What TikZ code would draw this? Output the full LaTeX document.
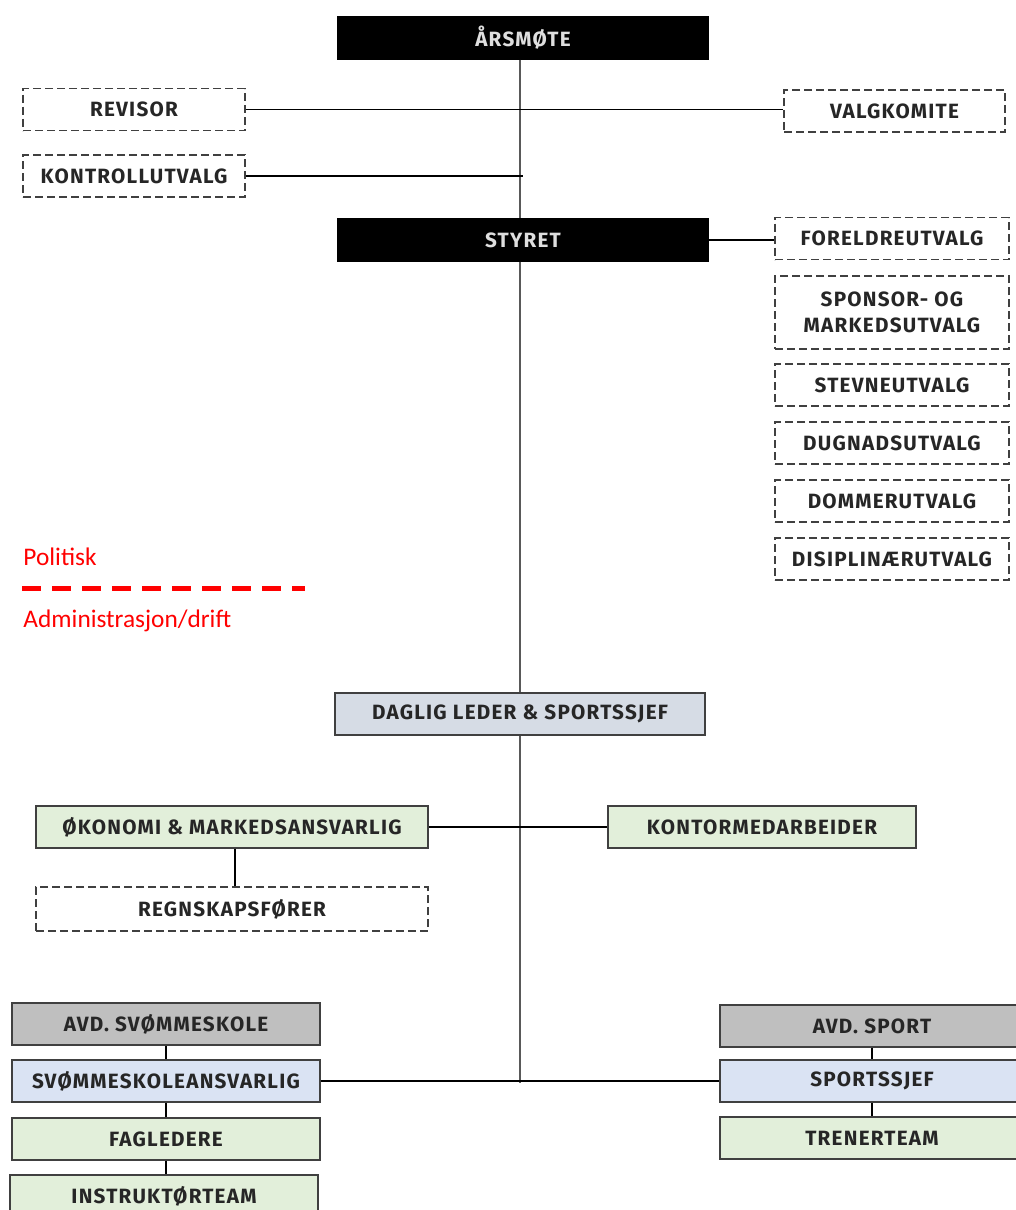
\documentclass[tikz,border=0pt]{standalone}
\usepackage{fontspec}
\setmainfont{Fira Sans}
\newfontfamily\orgfont{Fira Sans}[LetterSpace=6]
\newfontfamily\notefont{Carlito}
\usetikzlibrary{positioning}

\definecolor{boxline}{RGB}{64,64,64}
\definecolor{boxtext}{RGB}{38,38,38}
\definecolor{topbtext}{RGB}{222,222,222}
\definecolor{lederblue}{RGB}{214,220,229}
\definecolor{ansvblue}{RGB}{218,227,243}
\definecolor{drgreen}{RGB}{226,239,218}
\definecolor{avdgray}{RGB}{191,191,191}
\definecolor{spine}{RGB}{89,89,89}
\definecolor{skille}{RGB}{255,0,0}

\tikzset{every picture/.style={line width=0.75pt}}
\tikzset{
  org/.style={draw=boxline, line width=1pt, text=boxtext, align=center,
              inner sep=0.75pt, font=\orgfont\fontsize{15.5}{19.5}\selectfont\bfseries},
  wide/.style={minimum width=#1*0.75pt},
  tall/.style={minimum height=#1*0.75pt},
  topbox/.style={org, fill=black, draw=black, text=topbtext, wide=370, tall=42},
  utvalg/.style={org, dash pattern=on 6pt off 3pt, wide=222, tall=42},
  leder/.style={org, fill=lederblue, wide=370, tall=42},
  ansvar/.style={org, fill=ansvblue, wide=308, tall=42},
  drift/.style={org, fill=drgreen, wide=308, tall=42},
  avd/.style={org, fill=avdgray, wide=308, tall=42},
  link/.style={draw=black, line width=1.1pt},
  merknad/.style={anchor=west, inner sep=0pt, text=skille, font=\notefont\fontsize{19}{22}\selectfont},
}

\begin{document}
\begin{tikzpicture}[x=0.75pt, y=0.75pt, yscale=-1, xscale=1]

    \useasboundingbox (0,0) rectangle (1016,1210);

    % politisk nivaa
    \node [topbox] (aarsmote) at (523, 38) {ÅRSMØTE};
    \node [utvalg] (revisor) at (134, 109.5) {REVISOR};
    \node [utvalg, wide=221] (valgkomite) at (894.5, 111) {VALGKOMITE};
    \node [utvalg] (kontroll) at (134, 176) {KONTROLLUTVALG};
    \node [topbox] (styret) at (523, 240) {STYRET};

    \node [utvalg, wide=234] (foreldre) at (892, 238.5) {FORELDREUTVALG};
    \node [utvalg, wide=234, tall=73] (sponsor) at (892, 312.5) {SPONSOR- OG\\MARKEDSUTVALG};
    \node [utvalg, wide=234] (stevne) at (892, 385) {STEVNEUTVALG};
    \node [utvalg, wide=234] (dugnad) at (892, 443) {DUGNADSUTVALG};
    \node [utvalg, wide=234] (dommer) at (892, 501) {DOMMERUTVALG};
    \node [utvalg, wide=234] (disiplin) at (892, 559) {DISIPLINÆRUTVALG};

    % skillelinje
    \node [merknad] (politisk) at (23, 557) {Politisk};
    \node [merknad] (admin) at (23, 621) {Administrasjon/drift};
    \coordinate (skillea) at (22, 588);
    \coordinate (skilleb) at (305, 588);
    \draw [skille, line width=3.75pt, dash pattern=on 14.25pt off 8.25pt] (skillea) -- (skilleb);

    % administrasjon
    \node [leder] (daglig) at (520, 714) {DAGLIG LEDER \& SPORTSSJEF};
    \node [drift, wide=392] (okonomi) at (232, 827) {ØKONOMI \& MARKEDSANSVARLIG};
    \node [drift] (kontor) at (762, 827) {KONTORMEDARBEIDER};
    \node [utvalg, wide=392, tall=44] (regnskap) at (232, 909) {REGNSKAPSFØRER};

    \node [avd] (avdsvom) at (166, 1024) {AVD. SVØMMESKOLE};
    \node [ansvar] (svomansv) at (166, 1081) {SVØMMESKOLEANSVARLIG};
    \node [drift] (fagledere) at (166, 1139) {FAGLEDERE};
    \node [drift] (instruktor) at (164, 1196) {INSTRUKTØRTEAM};

    \node [avd, wide=304] (avdsport) at (872, 1026) {AVD. SPORT};
    \node [ansvar, wide=304] (sportssjef) at (872, 1081) {SPORTSSJEF};
    \node [drift, wide=304] (trenerteam) at (872, 1138) {TRENERTEAM};

    \coordinate (bunn) at (520, 1083);

    % linjer
    \draw [spine, line width=1.5pt] (bunn |- aarsmote.south) -- (bunn |- styret.north);
    \draw [spine, line width=1.5pt] (bunn |- styret.south) -- (bunn |- daglig.north);
    \draw [spine, line width=1.5pt] (bunn |- daglig.south) -- (bunn);

    \draw [link] (revisor.east) -- (revisor.east -| valgkomite.west);
    \draw [link] (kontroll.east) -- ([xshift=2.25pt]kontroll.east -| bunn);
    \draw [link] (styret.east) -- (styret.east -| foreldre.west);

    \draw [link] (okonomi.east) -- (kontor.west);
    \draw [link] ([xshift=2.25pt]okonomi.south) -- ([xshift=2.25pt]regnskap.north);

    \draw [link] (svomansv.east) -- (sportssjef.west);
    \draw [link] (avdsvom.south) -- (svomansv.north);
    \draw [link] (svomansv.south) -- (fagledere.north);
    \draw [link] (fagledere.south) -- (fagledere.south |- instruktor.north);
    \draw [link] (avdsport.south) -- (sportssjef.north);
    \draw [link] (sportssjef.south) -- (trenerteam.north);

\end{tikzpicture}
\end{document}
